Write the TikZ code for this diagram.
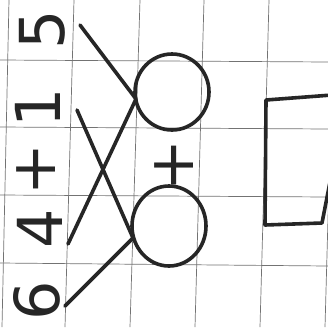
\documentclass[tikz,border=0pt]{standalone}
\usepackage{fontspec}
\setmainfont{DejaVu Sans}
\begin{document}
\begin{tikzpicture}[x=1pt,y=-1pt,
  gridline/.style={draw=black!55,line width=0.7pt},
  pen/.style={draw=black!85,line width=3.6pt,line cap=round,line join=round},
  digit/.style={inner sep=0pt,rotate=90,font=\fontsize{62}{62}\selectfont,text=black!85},
  ring/.style={pen,ellipse,inner sep=0pt},
]
\useasboundingbox[fill=white] (0,0) rectangle (328,327);
% grid
\foreach \a/\b in {9/2,74/65,140/130,204/195,269/260,334/325}
  \draw[gridline] (\a,0) -- (\b,327);
\foreach \a/\b in {60/62,127/129,195/197,263/266}
  \draw[gridline] (0,\a) -- (328,\b);
% digits
\node[digit] (d5) at (42,30) {5};
\node[digit] (d1) at (38,108) {1};
\node[digit] (dp) at (36,170) {+};
\node[digit] (d4) at (40,229) {4};
\node[digit] (d6) at (37,301) {6};
% circles
\draw[pen] (172,92) ellipse[x radius=37,y radius=38];
\draw[pen] (169,226) ellipse[x radius=37,y radius=40];
\coordinate (c1w) at (136,99);
\coordinate (c2w) at (133,238);
% plus between circles
\node[digit,rotate=0] (pl) at (174,166) {+};
% lines
\coordinate (a1) at (80,25);
\coordinate (a2) at (77,110);
\coordinate (a3) at (68,244);
\coordinate (a4) at (65,306);
\draw[pen] (a1) -- (c1w);
\draw[pen] (a2) -- (c2w);
\draw[pen] (c1w) -- (a3);
\draw[pen] (c2w) -- (a4);
% square
\coordinate (s1) at (332,95);
\coordinate (s2) at (266,100);
\coordinate (s3) at (265,225);
\coordinate (s4) at (322,223);
\coordinate (s5) at (330,182);
\draw[pen] (s1) -- (s2) -- (s3) -- (s4) -- (s5);
\end{tikzpicture}
\end{document}
